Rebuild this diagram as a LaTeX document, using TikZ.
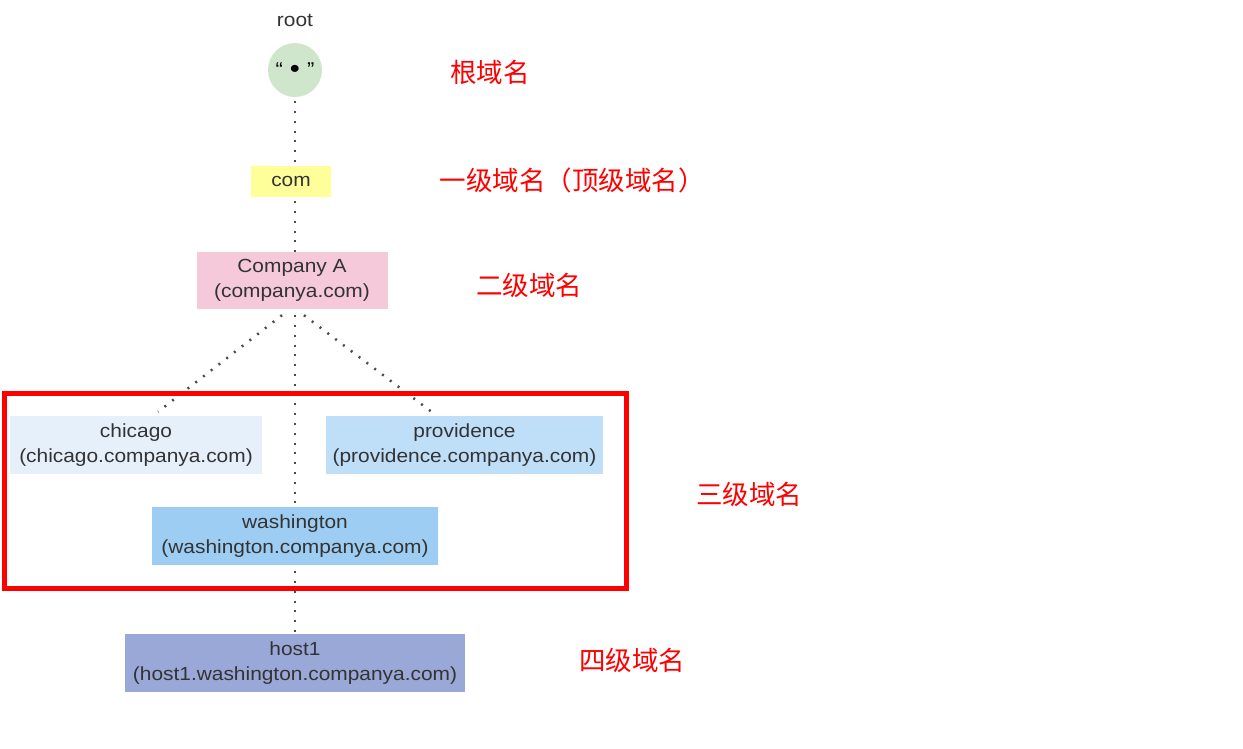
\documentclass[tikz,border=0pt]{standalone}
\usepackage{fontspec}
\setmainfont{Liberation Sans}[FakeStretch=1.1]
\newfontfamily\cjk{Noto Sans CJK SC}
\definecolor{rootgreen}{HTML}{CFE6CC}
\definecolor{comyellow}{HTML}{FFFF99}
\definecolor{capink}{HTML}{F5C8DA}
\definecolor{chicagoblue}{HTML}{E6F0FA}
\definecolor{provblue}{HTML}{BEDFF7}
\definecolor{washblue}{HTML}{9ECDF3}
\definecolor{hostblue}{HTML}{99A8D6}

\begin{document}
\begin{tikzpicture}[x=1pt,y=-1pt,
	box/.style={rectangle,inner sep=0pt,align=center,text=black!80,font=\fontsize{19}{25}\selectfont},
	link/.style={draw=black!70,line width=2.5pt,dash pattern=on 2pt off 7.8pt},
	level/.style={text=red,font=\cjk\fontsize{26.5}{30}\selectfont}]
	\useasboundingbox (0,0) rectangle (1243,748);
	% the tree
	\node[box] (rootlabel) at (295,20) {root};
	\node[circle,fill=rootgreen,minimum size=54pt,inner sep=0pt,text=black,font=\fontsize{20}{20}\selectfont] (root) at (295,70) {“\hspace{7pt}\raisebox{-1pt}{\fontsize{26}{26}\selectfont •}\hspace{7pt}”};
	\node[box,fill=comyellow,minimum width=80pt,minimum height=31pt] (com) at (291,181.5) {com};
	\node[box,fill=capink,minimum width=191pt,minimum height=57pt] (ca) at (292,280.5) {Company A\\(companya.com)};
	\node[box,fill=chicagoblue,minimum width=252pt,minimum height=58pt] (chicago) at (136,445) {chicago\\(chicago.companya.com)};
	\node[box,fill=provblue,minimum width=277pt,minimum height=58pt] (prov) at (464.5,445) {providence\\(providence.companya.com)};
	\node[box,fill=washblue,minimum width=286pt,minimum height=58pt] (wash) at (295,536) {washington\\(washington.companya.com)};
	\node[box,fill=hostblue,minimum width=340pt,minimum height=58pt] (host) at (295,663) {host1\\(host1.washington.companya.com)};
	\draw[link] ([yshift=-4pt]root.south) -- (com.north -| root.south);
	\draw[link] ([yshift=-4pt]com.south -| root.south) -- (ca.north -| root.south);
	\draw[link] ([xshift=-10pt,yshift=-6pt]ca.south) -- ([xshift=22pt,yshift=4pt]chicago.north);
	\draw[link] ([xshift=12pt,yshift=-6pt]ca.south) -- ([xshift=-33pt,yshift=4pt]prov.north);
	\draw[link] ([yshift=-6pt]ca.south -| wash.north) -- (wash.north);
	\draw[link] ([yshift=-6pt]wash.south) -- (host.north);
	% third level frame
	\draw[red,line width=5pt] (4,393) rectangle (626,588);
	% level names
	\node[level] (l0) at (490,72) {根域名};
	\node[level] (l1) at (572,180) {一级域名（顶级域名）};
	\node[level] (l2) at (529,285) {二级域名};
	\node[level] (l3) at (749,494) {三级域名};
	\node[level] (l4) at (632,660) {四级域名};
\end{tikzpicture}
\end{document}
